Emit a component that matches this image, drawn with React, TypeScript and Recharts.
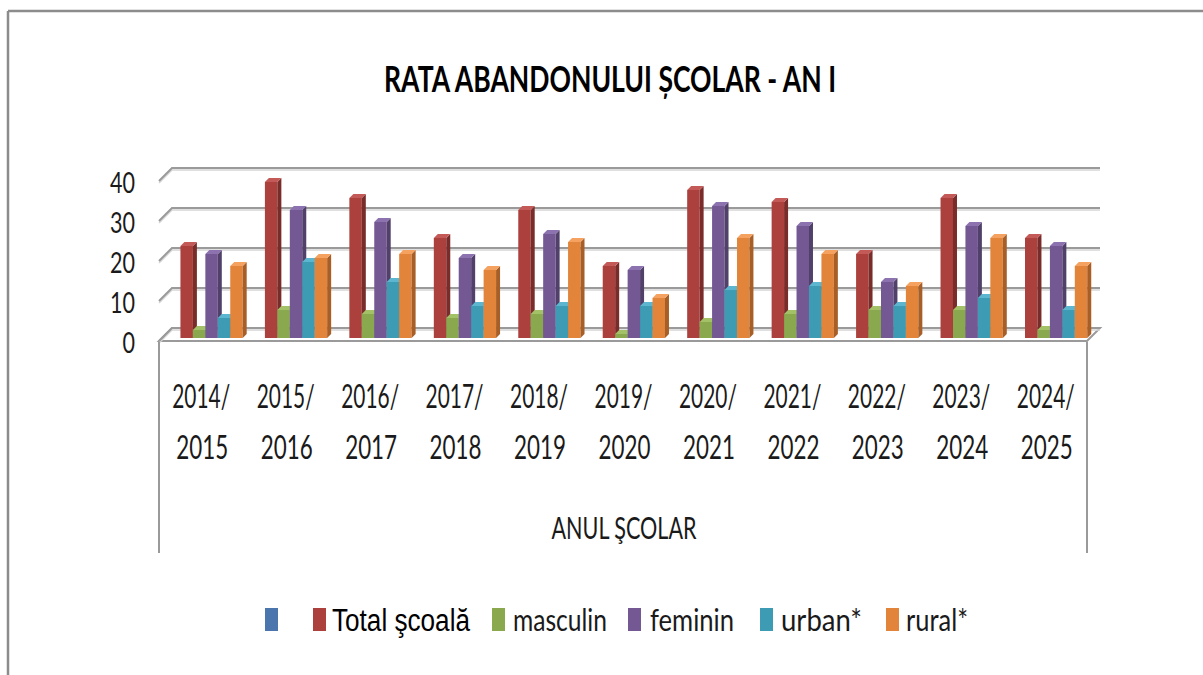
import { BarChart, Bar, XAxis, YAxis, CartesianGrid } from "recharts";

const categories = [
  "2014/2015", "2015/2016", "2016/2017", "2017/2018", "2018/2019", "2019/2020",
  "2020/2021", "2021/2022", "2022/2023", "2023/2024", "2024/2025"
];

const faraNume = [null, null, null, null, null, null, null, null, null, null, null];
const totalScoala = [23, 39, 35, 25, 32, 18, 37, 34, 21, 35, 25];
const masculin = [2, 7, 6, 5, 6, 1, 4, 6, 7, 7, 2];
const feminin = [21, 32, 29, 20, 26, 17, 33, 28, 14, 28, 23];
const urban = [5, 19, 14, 8, 8, 8, 12, 13, 8, 10, 7];
const rural = [18, 20, 21, 17, 24, 10, 25, 21, 13, 25, 18];

const yTicks = [0, 10, 20, 30, 40];

const data = categories.map((c, i) => ({
  an: c,
  blank: faraNume[i],
  total: totalScoala[i],
  masculin: masculin[i],
  feminin: feminin[i],
  urban: urban[i],
  rural: rural[i]
}));

// front / side / top shades for each series
const series = [
  { key: "blank", name: "", front: "#4a76ad", side: "#36577f", top: "#6a94c8" },
  { key: "total", name: "Total şcoală", front: "#ab403d", side: "#7a2c2a", top: "#c35a57" },
  { key: "masculin", name: "masculin", front: "#8aa84e", side: "#667d38", top: "#a3c167" },
  { key: "feminin", name: "feminin", front: "#735894", side: "#51406a", top: "#8c72ae" },
  { key: "urban", name: "urban*", front: "#3e9bb4", side: "#2c7286", top: "#5cb6cf" },
  { key: "rural", name: "rural*", front: "#e2843a", side: "#a85f27", top: "#f5a160" }
];

const FONT = "Lato, 'Open Sans', sans-serif";
const DX = 4;
const DY = 4;

const Bar3D = (props: any) => {
  const { x, y, width, height, front, side, top, value } = props;
  if (value == null || height <= 0) return null;
  return (
    <g>
      <rect x={x} y={y} width={width} height={height} fill={front} />
      <polygon
        points={`${x + width},${y} ${x + width + DX},${y - DY} ${x + width + DX},${y + height - DY} ${x + width},${y + height}`}
        fill={side}
      />
      <polygon
        points={`${x},${y} ${x + DX},${y - DY} ${x + width + DX},${y - DY} ${x + width},${y}`}
        fill={top}
      />
    </g>
  );
};

// back-wall gridlines with the short diagonal on the side wall; the 0 line becomes the floor
const GridLine = (props: any) => {
  const { x1, x2, y1, y, height } = props;
  const d = `M${x1 - 4},${y1 + 3} L${x1 + 9},${y1 - 10} L${x2 + 8},${y1 - 10}`;
  const isFloor = Math.abs(y1 - (y + height)) < 1;
  return (
    <g key={`g-${y1}`}>
      {isFloor && (
        <polygon
          points={`${x1 - 4},${y1 + 3} ${x1 + 9},${y1 - 10} ${x2 + 8},${y1 - 10} ${x2 - 5},${y1 + 3}`}
          fill="#ffffff"
          stroke="#9a9a9a"
          strokeWidth={2}
        />
      )}
      <path d={d} fill="none" stroke="#d6d6d6" strokeWidth={1.5} transform="translate(0,2)" />
      <path d={d} fill="none" stroke="#9a9a9a" strokeWidth={2} />
    </g>
  );
};

const YTick = (props: any) => {
  const { x, y, payload } = props;
  const s = String(payload.value);
  return (
    <text x={x} y={y + 15} textAnchor="end" fontFamily={FONT} fontSize={29}
      fill="#1a1a1a" textLength={12.5 * s.length} lengthAdjust="spacingAndGlyphs">
      {s}
    </text>
  );
};

const XTick = (props: any) => {
  const { x, y, payload } = props;
  const [a, b] = String(payload.value).split("/");
  return (
    <g>
      <text x={x - 4} y={y + 70} textAnchor="middle" fontFamily={FONT} fontSize={32}
        fill="#1a1a1a" textLength={58} lengthAdjust="spacingAndGlyphs">
        {a + "/"}
      </text>
      <text x={x - 3} y={y + 121} textAnchor="middle" fontFamily={FONT} fontSize={32}
        fill="#1a1a1a" textLength={52} lengthAdjust="spacingAndGlyphs">
        {b}
      </text>
    </g>
  );
};

// legend layout: square left edge, label start, label width
const legendPos = [
  { sq: 265, tx: 0, w: 0 },
  { sq: 313, tx: 332, w: 138 },
  { sq: 492, tx: 513, w: 94 },
  { sq: 628, tx: 650, w: 84 },
  { sq: 760, tx: 781, w: 81 },
  { sq: 886, tx: 906, w: 62 }
];

export default function App() {
  return (
    <div style={{ position: "absolute", left: 0, top: 0, width: 1203, height: 675, background: "#fff" }}>
      <BarChart
        width={1203}
        height={675}
        data={data}
        margin={{ top: 178, right: 111, bottom: 0, left: 0 }}
        barSize={12.45}
        barGap={0}
      >
        <CartesianGrid vertical={false} horizontal={GridLine} />
        <XAxis dataKey="an" height={337} axisLine={false} tickLine={false} tickSize={0}
          tickMargin={0} interval={0} tick={XTick} />
        <YAxis width={163} domain={[0, 40]} ticks={yTicks} axisLine={false} tickLine={false}
          tickSize={0} tickMargin={28} tick={YTick} />
        {series.map((s) => (
          <Bar
            key={s.key}
            dataKey={s.key}
            name={s.name}
            fill={s.front}
            isAnimationActive={false}
            shape={(p: any) => <Bar3D {...p} front={s.front} side={s.side} top={s.top} />}
          />
        ))}
      </BarChart>
      <svg width={1203} height={675} style={{ position: "absolute", left: 0, top: 0, pointerEvents: "none" }}>
        <line x1={8} y1={11} x2={1203} y2={11} stroke="#8c8c8c" strokeWidth={2.5} />
        <line x1={8} y1={11} x2={8} y2={675} stroke="#8c8c8c" strokeWidth={2.5} />
        <line x1={159} y1={342} x2={159} y2={553} stroke="#9a9a9a" strokeWidth={2} />
        <line x1={1087} y1={342} x2={1087} y2={553} stroke="#9a9a9a" strokeWidth={2} />
        <text x={610} y={92} textAnchor="middle" fontFamily={FONT} fontWeight={700} fontSize={37}
          fill="#000" textLength={452} lengthAdjust="spacingAndGlyphs">
          RATA ABANDONULUI ȘCOLAR - AN I
        </text>
        <text x={624} y={539} textAnchor="middle" fontFamily={FONT} fontSize={31}
          fill="#1a1a1a" textLength={145} lengthAdjust="spacingAndGlyphs">
          ANUL ŞCOLAR
        </text>
        {series.map((s, i) => (
          <g key={s.key}>
            <rect x={legendPos[i].sq} y={608} width={13} height={23} fill={s.front} />
            {s.name && (
              <text
                x={legendPos[i].tx}
                y={631}
                fontFamily={i === 1 ? "'Liberation Sans', Arial, sans-serif" : FONT}
                fontSize={31}
                fill={i === 1 ? "#000" : "#1a1a1a"}
                textLength={legendPos[i].w}
                lengthAdjust="spacingAndGlyphs"
              >
                {s.name}
              </text>
            )}
          </g>
        ))}
      </svg>
    </div>
  );
}
